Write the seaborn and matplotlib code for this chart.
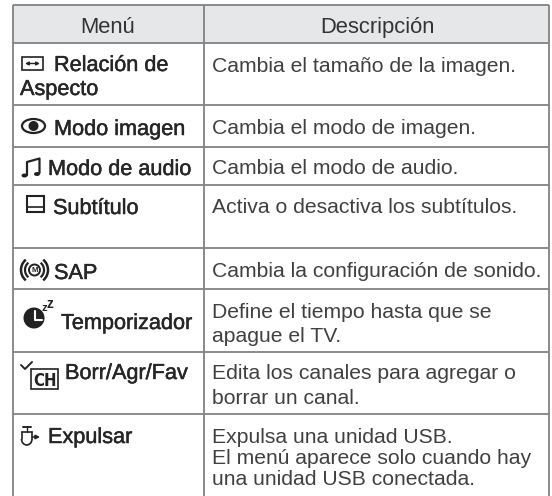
import matplotlib
matplotlib.use("Agg")
import matplotlib.pyplot as plt
import matplotlib.patheffects as pe
from matplotlib.patches import Rectangle, Ellipse, Circle, Arc
import seaborn as sns

headers = ["Menú", "Descripción"]
menu = [["Relación de", "Aspecto"], ["Modo imagen"], ["Modo de audio"], ["Subtítulo"],
        ["SAP"], ["Temporizador"], ["Borr/Agr/Fav"], ["Expulsar"]]
descr = [["Cambia el tamaño de la imagen."],
         ["Cambia el modo de imagen."],
         ["Cambia el modo de audio."],
         ["Activa o desactiva los subtítulos."],
         ["Cambia la configuración de sonido."],
         ["Define el tiempo hasta que se", "apague el TV."],
         ["Edita los canales para agregar o", "borrar un canal."],
         ["Expulsa una unidad USB.", "El menú aparece solo cuando hay", "una unidad USB conectada."]]

# layout in pixels
col_x = [12.5, 204, 549]
row_y = [5, 42.5, 105, 147, 185, 248, 289, 352, 414]
menu_x = [[54, 20], [54], [48], [53], [54], [61], [65], [48]]
menu_y = [[71, 95], [135], [175], [214], [279], [329], [379], [443]]
descr_y = [[71.5], [134], [174], [213], [277], [318, 342], [379, 403.5], [443, 464, 485]]

LINE = "#808285"
ICON = "#222222"

sns.set_theme(style="white")
plt.rcParams["font.family"] = ["Liberation Sans", "DejaVu Sans"]

fig = plt.figure(figsize=(5.52, 4.96), dpi=100)
ax = fig.add_axes([0, 0, 1, 1])
ax.set_xlim(0, 552)
ax.set_ylim(496, 0)
ax.axis("off")

ax.add_patch(Rectangle((col_x[0], row_y[0]), col_x[2] - col_x[0], row_y[1] - row_y[0], color="#e6e7e8", lw=0))
ax.hlines(row_y, col_x[0], col_x[2], color=LINE, lw=1.3)
ax.vlines(col_x, row_y[0], 496, color=LINE, lw=1.3)

bold = [pe.withStroke(linewidth=0.35, foreground="#262626")]
ax.text(108, 33, headers[0], fontsize=15.8, color="#333333", ha="center", va="baseline")
ax.text(377.5, 33, headers[1], fontsize=15.8, color="#333333", ha="center", va="baseline")

for i, lines in enumerate(menu):
    for j, s in enumerate(lines):
        ax.text(menu_x[i][j], menu_y[i][j], s, fontsize=15.6, color="#262626", va="baseline", path_effects=bold)
for i, lines in enumerate(descr):
    for j, s in enumerate(lines):
        ax.text(212, descr_y[i][j], s, fontsize=15.2, color="#404040", va="baseline")

# icons
# aspect ratio
ax.add_patch(Rectangle((22, 57), 21, 13, fc="none", ec=ICON, lw=1.2))
ax.annotate("", xy=(25, 63.5), xytext=(40, 63.5), arrowprops=dict(arrowstyle="<|-|>", color=ICON, lw=1, mutation_scale=5, shrinkA=0, shrinkB=0))
# eye
ax.add_patch(Ellipse((33.5, 126), 23, 14, fc="none", ec=ICON, lw=1.6))
ax.add_patch(Circle((33.5, 126), 5, fc=ICON, ec="none"))
# notes
ax.plot([27, 27, 39.5, 39.5], [175, 162, 158.5, 173], color=ICON, lw=1.6)
ax.add_patch(Ellipse((24.5, 175.5), 6, 4, fc=ICON, ec="none"))
ax.add_patch(Ellipse((37, 174), 6, 4, fc=ICON, ec="none"))
# subtitle
ax.add_patch(Rectangle((27, 196), 17, 16, fc="none", ec=ICON, lw=1.5))
ax.plot([27, 44], [207, 207], color=ICON, lw=1.2)
# SAP
ax.add_patch(Circle((34.5, 270), 5.5, fc="none", ec=ICON, lw=1.4))
ax.text(34.5, 272.5, "M", fontsize=5.5, fontweight="bold", color=ICON, ha="center", va="baseline")
for r, lw in [(9.5, 1.6), (13.5, 1.8)]:
    ax.add_patch(Arc((34.5, 270), 2 * r, 2 * r, theta1=-50, theta2=50, color=ICON, lw=lw))
    ax.add_patch(Arc((34.5, 270), 2 * r, 2 * r, theta1=130, theta2=230, color=ICON, lw=lw))
# timer
ax.add_patch(Circle((34, 318), 10.5, fc=ICON, ec="none"))
ax.plot([35, 35, 42], [311, 320, 320], color="white", lw=1.5)
ax.text(41, 311, "z", fontsize=8, fontweight="bold", color=ICON, va="baseline")
ax.text(46.5, 308, "z", fontsize=10, fontweight="bold", color=ICON, va="baseline")
# CH
ax.plot([21, 25, 32], [365, 369, 362], color=ICON, lw=1.4)
ax.add_patch(Rectangle((31, 369), 27, 20, fc="none", ec=ICON, lw=1.2))
ax.text(44.5, 386, "CH", fontsize=12, stretch="condensed", family="Liberation Sans Narrow", fontweight="bold", color=ICON, ha="center", va="baseline")
# eject
ax.plot([23, 31], [427, 427], color=ICON, lw=1.4)
ax.plot([27, 27], [427, 432], color=ICON, lw=1)
ax.plot([21.5, 32], [432, 432], color=ICON, lw=1.2)
ax.plot([21.5, 21.5], [432, 439], color=ICON, lw=1.2)
ax.plot([32, 32], [432, 439], color=ICON, lw=1.2)
ax.add_patch(Arc((26.75, 439), 10.5, 12, theta1=0, theta2=180, color=ICON, lw=1.2))
ax.annotate("", xy=(40, 437), xytext=(32, 437), arrowprops=dict(arrowstyle="-|>", color=ICON, lw=1.1, mutation_scale=6, shrinkA=0, shrinkB=0))

fig.savefig("out.png", dpi=100)
